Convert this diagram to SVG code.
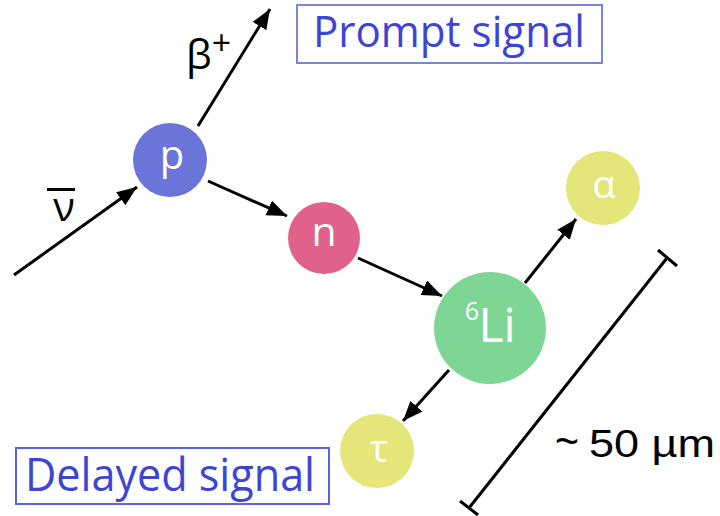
<svg xmlns="http://www.w3.org/2000/svg" width="720" height="516" viewBox="0 0 720 516">
<defs>
<style>
.lbl{font-family:"Open Sans","Noto Sans","Liberation Sans",sans-serif;fill:#ffffff;text-anchor:middle}
.conn line{stroke:#000;stroke-width:3;fill:none}
.sig{font-family:"Open Sans","Noto Sans","Liberation Sans",sans-serif;fill:#3c46d2}
.box{fill:#fff;stroke-width:2}
.blk{font-family:"Open Sans","Noto Sans","Liberation Sans",sans-serif;fill:#000}
.ari{font-family:"Liberation Sans",Arial,sans-serif;fill:#000}
</style>
<marker id="ah" markerUnits="userSpaceOnUse" markerWidth="22" markerHeight="18" refX="20" refY="8" orient="auto">
<path d="M0,0 L20,8 L0,16 z" fill="#000"/>
</marker>
</defs>
<rect width="720" height="516" fill="#fff"/>
<g id="connectors" class="conn">
<line x1="14" y1="275" x2="137" y2="187" marker-end="url(#ah)"/>
<line x1="198" y1="126" x2="270" y2="9" marker-end="url(#ah)"/>
<line x1="208" y1="181" x2="287" y2="216" marker-end="url(#ah)"/>
<line x1="358" y1="258" x2="442" y2="296" marker-end="url(#ah)"/>
<line x1="525" y1="283" x2="576" y2="219" marker-end="url(#ah)"/>
<line x1="449" y1="370" x2="403" y2="421" marker-end="url(#ah)"/>
</g>
<g id="scale" class="conn">
<line x1="667" y1="258" x2="469" y2="508"/>
<line x1="658" y1="250" x2="677" y2="266"/>
<line x1="460" y1="501" x2="478" y2="515"/>
<text class="ari" x="555" y="457" font-size="46" textLength="24" lengthAdjust="spacingAndGlyphs">~</text>
<text class="ari" x="589" y="457" font-size="39" textLength="126" lengthAdjust="spacingAndGlyphs">50 µm</text>
</g>
<g id="nu-label">
<line x1="47" y1="189.5" x2="75" y2="189.5" stroke="#000" stroke-width="3"/>
<text class="blk" x="64" y="221" font-size="40" text-anchor="middle">ν</text>
</g>
<g id="beta-label">
<text class="blk" x="186" y="69" font-size="41">β<tspan dy="-14" font-size="34">+</tspan></text>
</g>
<g id="p"><circle cx="170" cy="160" r="37" fill="#6b74d9"/><text class="lbl" x="172" y="169" font-size="40">p</text></g>
<g id="n"><circle cx="324" cy="238" r="36" fill="#e0628a"/><text class="lbl" x="324" y="246" font-size="41">n</text></g>
<g id="li6"><circle cx="490" cy="328" r="56" fill="#7ed695"/><text class="lbl" x="472" y="320" font-size="25">6</text><text class="lbl" x="497" y="342" font-size="48">Li</text></g>
<g id="alpha"><circle cx="603" cy="188" r="37" fill="#e4e679"/><text class="lbl" x="604" y="198" font-size="38">α</text></g>
<g id="tau"><circle cx="377" cy="451" r="37" fill="#e4e679"/><text class="lbl" x="379" y="462" font-size="38">τ</text></g>
<g id="prompt">
<rect class="box" x="297" y="5" width="305" height="58" stroke="#7c84e2"/>
<text class="sig" x="313" y="47" font-size="44" textLength="272" lengthAdjust="spacingAndGlyphs">Prompt signal</text>
</g>
<g id="delayed">
<rect class="box" x="16" y="448" width="313" height="56" stroke="#5a62e6"/>
<text class="sig" x="25" y="491" font-size="45" textLength="290" lengthAdjust="spacingAndGlyphs">Delayed signal</text>
</g>
</svg>
